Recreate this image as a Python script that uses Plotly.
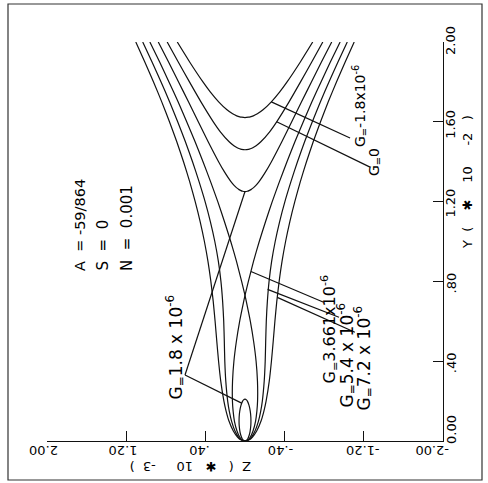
import plotly.graph_objects as go

W, H = 488, 483

# ---- axis ticks (Z in units of 1e-3, Y in units of 1e-2) ----
z_ticks = [2.0, 1.2, 0.4, -0.4, -1.2, -2.0]
z_tick_text = ["2.00", "1.20", ".40", "-.40", "-1.20", "-2.00"]
y_ticks = [0.0, 0.4, 0.8, 1.2, 1.6, 2.0]
y_tick_text = ["0.00", ".40", ".80", "1.20", "1.60", "2.00"]

# ---- trajectories: half-width |Z| against Y (each curve is symmetric in Z) ----
# G = -1.8e-6 : open branch with its vertex on Z = 0
y_gm18 = [1.621, 1.623, 1.625, 1.63, 1.64, 1.66, 1.70, 1.75, 1.80, 1.90, 2.00]
z_gm18 = [0.000, 0.034, 0.053, 0.084, 0.125, 0.182, 0.266, 0.351, 0.425, 0.559, 0.684]

# G = 0
y_g0 = [1.460, 1.462, 1.465, 1.47, 1.48, 1.50, 1.55, 1.60, 1.70, 1.80, 1.90, 2.00]
z_g0 = [0.000, 0.035, 0.055, 0.079, 0.112, 0.160, 0.249, 0.320, 0.445, 0.561, 0.674, 0.786]

# G = 1.8e-6 : upper branch plus a small closed loop at the origin
y_g18_up = [1.2505, 1.252, 1.255, 1.26, 1.27, 1.28, 1.30, 1.35, 1.40, 1.50, 1.60, 1.70, 1.80, 1.90, 2.00]
z_g18_up = [0.000, 0.024, 0.041, 0.060, 0.087, 0.108, 0.142, 0.209, 0.267, 0.372, 0.472, 0.571, 0.671, 0.772, 0.876]
y_g18_loop = [0.000, 0.004, 0.01, 0.03, 0.05, 0.08, 0.10, 0.12, 0.15, 0.18, 0.20, 0.205, 0.2095]
z_g18_loop = [0.000, 0.017, 0.027, 0.043, 0.052, 0.059, 0.060, 0.059, 0.053, 0.040, 0.024, 0.017, 0.000]

# G = 3.661e-6 : separatrix, loop below the node and arms above it
y_g3661_loop = [0.000, 0.005, 0.02, 0.05, 0.10, 0.15, 0.20, 0.30, 0.40, 0.50, 0.60, 0.70, 0.73]
z_g3661_loop = [0.000, 0.027, 0.054, 0.081, 0.107, 0.120, 0.127, 0.126, 0.112, 0.087, 0.054, 0.013, 0.000]
y_g3661_arm = [0.73, 0.80, 0.90, 1.00, 1.10, 1.20, 1.30, 1.40, 1.50, 1.60, 1.70, 1.80, 1.90, 2.00]
z_g3661_arm = [0.000, 0.034, 0.086, 0.144, 0.208, 0.275, 0.348, 0.424, 0.504, 0.589, 0.676, 0.768, 0.862, 0.961]

# G = 5.4e-6 and G = 7.2e-6 : single branches through the origin
y_open = [0.000, 0.005, 0.02, 0.05, 0.10, 0.15, 0.20, 0.30, 0.40, 0.50, 0.60, 0.70, 0.80,
          0.90, 1.00, 1.10, 1.20, 1.30, 1.40, 1.50, 1.60, 1.70, 1.80, 1.90, 2.00]
z_g54 = [0.000, 0.033, 0.066, 0.101, 0.136, 0.159, 0.175, 0.194, 0.204, 0.209, 0.215, 0.226, 0.243,
         0.269, 0.305, 0.350, 0.403, 0.464, 0.530, 0.602, 0.680, 0.762, 0.848, 0.939, 1.033]
z_g72 = [0.000, 0.039, 0.076, 0.118, 0.162, 0.191, 0.213, 0.245, 0.267, 0.285, 0.302, 0.321, 0.345,
         0.374, 0.410, 0.453, 0.503, 0.559, 0.621, 0.689, 0.763, 0.841, 0.924, 1.012, 1.103]

fig = go.Figure()
line_style = dict(color="#111", width=1.2, shape="spline", smoothing=0.6)


def draw(zs, ys):
    fig.add_trace(go.Scatter(x=zs, y=ys, mode="lines", line=line_style,
                             hoverinfo="skip", showlegend=False))


def symmetric(ys, zs):
    # left half (mirrored) then right half, sharing the point on Z = 0
    draw([-z for z in reversed(zs)] + list(zs)[1:], list(reversed(ys)) + list(ys)[1:])


def closed_loop(ys, zs):
    draw(list(zs) + [-z for z in reversed(zs)][1:], list(ys) + list(reversed(ys))[1:])


symmetric(y_gm18, z_gm18)
symmetric(y_g0, z_g0)
symmetric(y_g18_up, z_g18_up)
closed_loop(y_g18_loop, z_g18_loop)
# the separatrix crosses itself at the node: each stroke runs from one side of
# the loop straight into the opposite arm
draw(list(z_g3661_loop) + [-z for z in z_g3661_arm][1:], list(y_g3661_loop) + list(y_g3661_arm)[1:])
draw([-z for z in z_g3661_loop] + list(z_g3661_arm)[1:], list(y_g3661_loop) + list(y_g3661_arm)[1:])
symmetric(y_open, z_g54)
symmetric(y_open, z_g72)


def px(x):
    return x / W


def py(y):
    return 1 - y / H


FONT = "DejaVu Sans, Liberation Sans, Arial, sans-serif"

fig.update_layout(
    width=W, height=H,
    margin=dict(l=0, r=0, t=0, b=0),
    paper_bgcolor="white", plot_bgcolor="white",
    font=dict(family=FONT, color="black", size=12),
    xaxis=dict(
        range=[2.0, -2.0], domain=[px(47), px(443)], automargin=False,
        tickvals=z_ticks, showticklabels=False,
        ticks="inside", ticklen=10, tickwidth=1.2, tickcolor="#111",
        showline=True, linecolor="#111", linewidth=1.2,
        showgrid=False, zeroline=False,
    ),
    yaxis=dict(
        range=[0.0, 2.0], domain=[py(441), py(42)], side="right", automargin=False,
        tickvals=y_ticks, showticklabels=False,
        ticks="inside", ticklen=10, tickwidth=1.2, tickcolor="#111",
        showline=True, linecolor="#111", linewidth=1.2,
        showgrid=False, zeroline=False,
    ),
    shapes=[dict(type="rect", xref="paper", yref="paper",
                 x0=px(8), x1=px(482), y0=py(480), y1=py(4),
                 line=dict(color="#333", width=1.2))],
)

# tick labels, written along the rotated sheet
z_label_shift = [-3, -3.5, -6.5, -4, -1.5, -11]
for v, t, s in zip(z_ticks, z_tick_text, z_label_shift):
    fig.add_annotation(text=t, x=v, xref="x", xshift=s, y=py(451), yref="paper",
                       xanchor="center", yanchor="middle",
                       textangle=180, showarrow=False,
                       font=dict(family=FONT, size=13, color="black"))
y_label_shift = [11, -2, -2, -2, -3, 1]
for v, t, s in zip(y_ticks, y_tick_text, y_label_shift):
    fig.add_annotation(text=t, y=v, yref="y", yshift=s, x=px(451), xref="paper",
                       xanchor="center", yanchor="middle",
                       textangle=-90, showarrow=False,
                       font=dict(family=FONT, size=13, color="black"))

NB = "\u00a0"


def text(t, x, y, angle, size, yanchor="middle"):
    fig.add_annotation(text=t, textangle=angle, xref="paper", yref="paper",
                       x=px(x), y=py(y), xanchor="center", yanchor=yanchor,
                       showarrow=False, font=dict(family=FONT, size=size, color="black"))


def spaced(*parts):
    out = parts[0]
    for gap, part in zip(parts[1::2], parts[2::2]):
        out += NB * gap + part
    return out


text(spaced("Z", 2, "(", 3, "\u2731", 3, "10", 5, "-3", 2, ")"), 191, 467, 180, 13)
text(spaced("Y", 2, "(", 4, "\u2731", 4, "10", 5, "-2", 3, ")"), 467, 182, -90, 13)

text(spaced("A", 2, "=", 1, "-59/864"), 80, 273, -90, 14.5, yanchor="bottom")
text(spaced("S", 2, "=", 2, "0"), 102, 273, -90, 15, yanchor="bottom")
text(spaced("N", 2, "=", 2, "0.001"), 127, 273, -90, 15, yanchor="bottom")

g_size = 17
text("G<sub>=</sub>1.8 x 10<sup>-6</sup>", 176, 402, -90, g_size, yanchor="bottom")
text("G<sub>=</sub>3.661x10<sup>-6</sup>", 330, 386, -90, 16, yanchor="bottom")
text("G<sub>=</sub>5.4 x 10<sup>-6</sup>", 347, 410, -90, g_size, yanchor="bottom")
text("G<sub>=</sub>7.2 x 10<sup>-6</sup>", 364, 413, -90, g_size, yanchor="bottom")
text("G<sub>=</sub>-1.8x10<sup>-6</sup>", 360, 149, -90, 14, yanchor="bottom")
text("G<sub>=</sub>0", 375, 178, -90, 14, yanchor="bottom")

# leader lines: curve point (Z, Y) -> label end (Z, Y)
leaders = [
    ((-0.266, 1.70), (-1.061, 1.519)),
    ((-0.320, 1.60), (-1.263, 1.373)),
    ((0.034, 0.19), (0.606, 0.331)),
    ((0.000, 1.2505), (0.606, 0.331)),
    ((-0.060, 0.85), (-0.788, 0.697)),
    ((-0.228, 0.76), (-0.949, 0.620)),
    ((-0.326, 0.72), (-1.110, 0.545)),
]
for (z0, y0), (z1, y1) in leaders:
    fig.add_shape(type="line", xref="x", yref="y", x0=z0, y0=y0, x1=z1, y1=y1,
                  line=dict(color="#111", width=1.2))

fig.write_html("out.html")
